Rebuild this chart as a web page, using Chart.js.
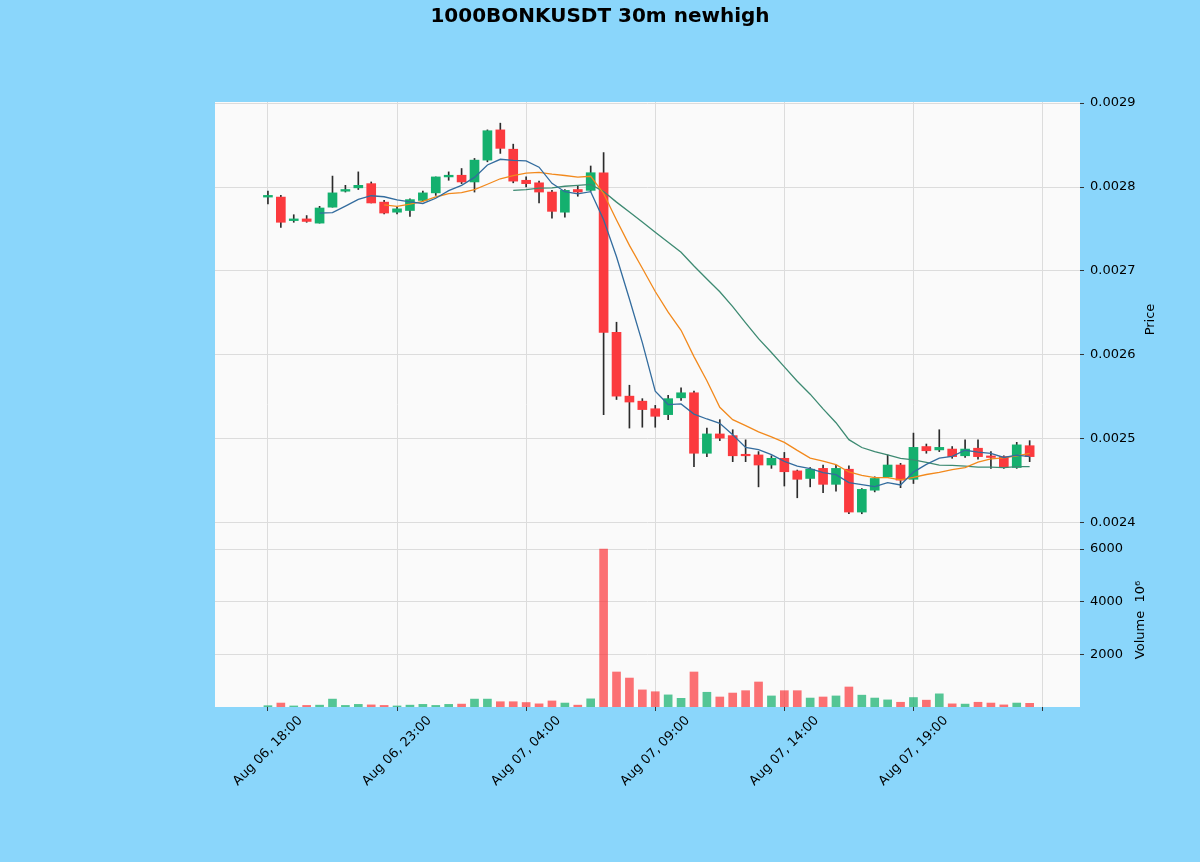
<!DOCTYPE html>
<html><head><meta charset="utf-8">
<script src="https://cdn.jsdelivr.net/npm/chart.js@4.4.1/dist/chart.umd.min.js"></script>
<style>html,body{margin:0;padding:0;background:#8ad6fb;overflow:hidden}canvas{display:block}</style>
</head><body>
<canvas id="c" width="1200" height="862"></canvas>
<script>
const chartTitle = '1000BONKUSDT 30m newhigh';
const times = [
'Aug 06, 18:00','Aug 06, 18:30','Aug 06, 19:00','Aug 06, 19:30','Aug 06, 20:00','Aug 06, 20:30','Aug 06, 21:00','Aug 06, 21:30','Aug 06, 22:00','Aug 06, 22:30',
'Aug 06, 23:00','Aug 06, 23:30','Aug 07, 00:00','Aug 07, 00:30','Aug 07, 01:00','Aug 07, 01:30','Aug 07, 02:00','Aug 07, 02:30','Aug 07, 03:00','Aug 07, 03:30',
'Aug 07, 04:00','Aug 07, 04:30','Aug 07, 05:00','Aug 07, 05:30','Aug 07, 06:00','Aug 07, 06:30','Aug 07, 07:00','Aug 07, 07:30','Aug 07, 08:00','Aug 07, 08:30',
'Aug 07, 09:00','Aug 07, 09:30','Aug 07, 10:00','Aug 07, 10:30','Aug 07, 11:00','Aug 07, 11:30','Aug 07, 12:00','Aug 07, 12:30','Aug 07, 13:00','Aug 07, 13:30',
'Aug 07, 14:00','Aug 07, 14:30','Aug 07, 15:00','Aug 07, 15:30','Aug 07, 16:00','Aug 07, 16:30','Aug 07, 17:00','Aug 07, 17:30','Aug 07, 18:00','Aug 07, 18:30',
'Aug 07, 19:00','Aug 07, 19:30','Aug 07, 20:00','Aug 07, 20:30','Aug 07, 21:00','Aug 07, 21:30','Aug 07, 22:00','Aug 07, 22:30','Aug 07, 23:00','Aug 07, 23:30'];

const opens = [0.002788,0.002788,0.002760,0.002762,0.002757,0.002776,0.002795,0.002799,0.002804,0.002782,
0.002770,0.002772,0.002784,0.002793,0.002812,0.002814,0.002806,0.002832,0.002868,0.002845,
0.002808,0.002805,0.002794,0.002770,0.002797,0.002796,0.002817,0.002627,0.002551,0.002545,
0.002536,0.002529,0.002549,0.002555,0.002483,0.002506,0.002504,0.002481,0.002481,0.002469,
0.002477,0.002462,0.002453,0.002465,0.002446,0.002464,0.002413,0.002439,0.002455,0.002469,
0.002452,0.002491,0.002487,0.002488,0.002480,0.002489,0.002479,0.002479,0.002466,0.002492];
const highs = [0.002795,0.002790,0.002767,0.002766,0.002777,0.002813,0.002802,0.002818,0.002806,0.002784,
0.002776,0.002786,0.002795,0.002812,0.002818,0.002822,0.002834,0.002868,0.002876,0.002851,
0.002812,0.002807,0.002796,0.002797,0.002801,0.002825,0.002841,0.002639,0.002564,0.002548,
0.002540,0.002552,0.002561,0.002557,0.002513,0.002523,0.002511,0.002499,0.002485,0.002480,
0.002484,0.002463,0.002466,0.002469,0.002469,0.002468,0.002441,0.002455,0.002481,0.002471,
0.002507,0.002494,0.002511,0.002491,0.002499,0.002499,0.002485,0.002480,0.002496,0.002498];
const lows = [0.002780,0.002752,0.002758,0.002758,0.002757,0.002776,0.002794,0.002797,0.002781,0.002768,
0.002768,0.002765,0.002783,0.002790,0.002808,0.002804,0.002794,0.002830,0.002840,0.002805,
0.002800,0.002781,0.002763,0.002764,0.002789,0.002795,0.002529,0.002547,0.002513,0.002514,
0.002514,0.002523,0.002546,0.002467,0.002479,0.002498,0.002473,0.002473,0.002443,0.002465,
0.002444,0.002430,0.002443,0.002436,0.002438,0.002411,0.002411,0.002437,0.002454,0.002442,
0.002447,0.002483,0.002485,0.002477,0.002478,0.002476,0.002465,0.002465,0.002465,0.002473];
const closes = [0.002790,0.002758,0.002762,0.002759,0.002775,0.002793,0.002797,0.002802,0.002781,0.002769,
0.002774,0.002785,0.002793,0.002812,0.002814,0.002806,0.002832,0.002867,0.002846,0.002807,
0.002804,0.002794,0.002771,0.002796,0.002794,0.002817,0.002627,0.002551,0.002544,0.002535,
0.002527,0.002548,0.002555,0.002483,0.002506,0.002501,0.002480,0.002480,0.002469,0.002477,
0.002461,0.002452,0.002464,0.002446,0.002465,0.002413,0.002440,0.002453,0.002469,0.002451,
0.002490,0.002486,0.002490,0.002479,0.002488,0.002479,0.002478,0.002466,0.002493,0.002479];
// volume in units of 10^6
const volumes = [50,150,40,60,70,300,60,100,80,60,
40,70,100,60,100,110,300,300,200,200,
170,120,230,150,70,310,6000,1330,1100,650,
580,460,330,1330,560,380,530,620,950,420,
620,620,340,380,420,760,450,340,270,180,
360,260,500,120,110,180,150,80,150,140];

const priceTicks = [0.0024,0.0025,0.0026,0.0027,0.0028,0.0029];
const volumeTicks = [2000,4000,6000];
const xTickIndex = [0,10,20,30,40,50,60];
const maPeriods = [5,10,20];
const maColors = ['#336c9e','#f2891c','#3d8a72'];

const upColor = '#14b06e', downColor = '#fb3a3e';
const upVol = 'rgba(20,176,110,0.72)', downVol = 'rgba(251,58,62,0.72)';
const FONT = 'DejaVu Sans';

function sma(arr, n){
  return arr.map((_, i) => {
    if (i < n - 1) return null;
    let s = 0; for (let k = i - n + 1; k <= i; k++) s += arr[k];
    return s / n;
  });
}
const idx = closes.map((_, i) => i);
const isUp = i => closes[i] >= opens[i];

const datasets = [
  { type:'bar', label:'wick', yAxisID:'y', data: idx.map(i => ({x:i, y:[lows[i], highs[i]]})),
    backgroundColor:'#2b2b2b', barThickness:1, grouped:false, order:4 },
  { type:'bar', label:'body', yAxisID:'y', data: idx.map(i => ({x:i, y:[opens[i], closes[i]]})),
    backgroundColor: ctx => isUp(ctx.dataIndex) ? upColor : downColor,
    barThickness:9, minBarLength:1.5, grouped:false, order:3 },
  { type:'bar', label:'volume', yAxisID:'yv', data: idx.map(i => ({x:i, y:volumes[i]})),
    backgroundColor: ctx => isUp(ctx.dataIndex) ? upVol : downVol,
    barThickness:8, grouped:false, order:5 }
];
maPeriods.forEach((p, k) => {
  const m = sma(closes, p);
  datasets.push({ type:'line', label:'MA'+p, yAxisID:'y', data: idx.map(i => ({x:i, y:m[i]})),
    borderColor: maColors[k], borderWidth:1.3, pointRadius:0, tension:0, fill:false, order:1 });
});

const decor = {
  id:'decor',
  beforeDraw(chart){
    const {ctx, chartArea:a} = chart;
    ctx.save(); ctx.fillStyle = '#fafafa';
    ctx.fillRect(a.left, a.top, a.right - a.left, a.bottom - a.top); ctx.restore();
  },
  afterDraw(chart){
    const {ctx, chartArea:a} = chart;
    const xs = chart.scales.x, yp = chart.scales.y, yv = chart.scales.yv;
    ctx.save();
    ctx.fillStyle = '#000';
    ctx.font = 'bold 20px "' + FONT + '"';
    ctx.textAlign = 'center'; ctx.textBaseline = 'middle';
    ctx.fillText(chartTitle, 600, 17);
    ctx.font = '13px "' + FONT + '"';
    ctx.save(); ctx.translate(1151, (yp.top + yp.bottom) / 2); ctx.rotate(-Math.PI/2);
    ctx.fillText('Price', 0, 0); ctx.restore();
    ctx.save(); ctx.translate(1141, (yv.top + yv.bottom) / 2 - 2); ctx.rotate(-Math.PI/2);
    ctx.fillText('Volume  10\u2076', 0, 0); ctx.restore();
    ctx.font = '13px "' + FONT + '"';
    ctx.textAlign = 'right'; ctx.textBaseline = 'top';
    xTickIndex.forEach(v => {
      const t = times[v] || '';
      if (!t) return;
      const px = xs.getPixelForValue(v);
      const w = ctx.measureText(t).width, h = 13;
      const ax = px + 0.3536 * (w - h), ay = a.bottom + 7;
      ctx.save(); ctx.translate(ax, ay); ctx.rotate(-Math.PI/4);
      ctx.fillText(t, 0, 0); ctx.restore();
    });
    ctx.restore();
  }
};

Chart.defaults.font.family = FONT;
new Chart(document.getElementById('c'), {
  type:'bar',
  data:{ datasets },
  options:{
    responsive:false, animation:false, devicePixelRatio:1,
    layout:{ padding:{ left:215, top:102, right:0, bottom:0 } },
    plugins:{ legend:{display:false}, tooltip:{enabled:false}, title:{display:false} },
    scales:{
      x:{ type:'linear', min:-4.1, max:62.9, offset:false,
        afterBuildTicks: s => { s.ticks = xTickIndex.map(v => ({value:v})); },
        afterFit: s => { s.height = 155; },
        grid:{ offset:false, color:'#dcdcdc', lineWidth:1, drawTicks:true, tickLength:4, tickColor:'#333' },
        border:{ display:false },
        ticks:{ display:false } },
      y:{ type:'linear', position:'right', stack:'main', stackWeight:435,
        min:0.0023833, max:0.0029012,
        afterBuildTicks: s => { s.ticks = priceTicks.map(v => ({value:v})); },
        afterFit: s => { s.width = 120; },
        grid:{ color:'#dcdcdc', lineWidth:1, drawTicks:true, tickLength:4, tickColor:'#333' },
        border:{ display:false },
        ticks:{ color:'#000', font:{size:13, family:FONT}, padding:6, callback: v => v.toFixed(4) } },
      yv:{ type:'linear', position:'right', stack:'main', stackWeight:170,
        min:0, max:6460,
        afterBuildTicks: s => { s.ticks = volumeTicks.map(v => ({value:v})); },
        afterFit: s => { s.width = 120; },
        grid:{ color:'#dcdcdc', lineWidth:1, drawTicks:true, tickLength:4, tickColor:'#333' },
        border:{ display:false },
        ticks:{ color:'#000', font:{size:13, family:FONT}, padding:6, callback: v => String(v) } }
    }
  },
  plugins:[decor]
});
</script>
</body></html>
